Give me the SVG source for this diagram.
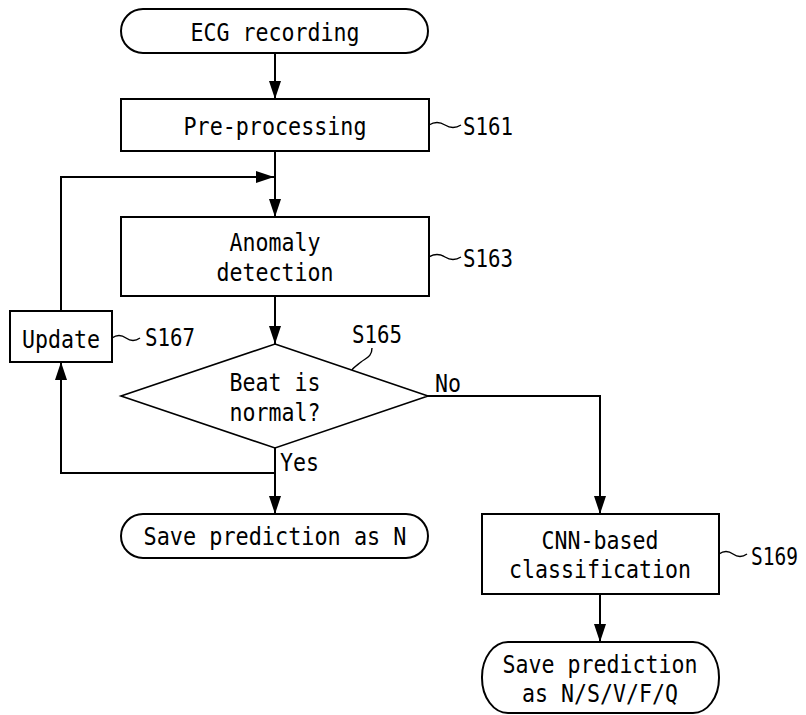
<svg xmlns="http://www.w3.org/2000/svg" width="806" height="715" viewBox="0 0 806 715">
<style>
.box{fill:#fff;stroke:#000;stroke-width:2}
.dia{fill:#fff;stroke:#000;stroke-width:1.6}
.con{fill:none;stroke:#000;stroke-width:2}
.lead{fill:none;stroke:#000;stroke-width:1.4}
text{font-family:"DejaVu Sans Mono","Liberation Mono",monospace;font-size:25px;fill:#000}
.c{text-anchor:middle}
</style>
<defs>
<marker id="ah" markerUnits="userSpaceOnUse" markerWidth="18" markerHeight="12" refX="18" refY="6" orient="auto">
<path d="M0,0 L18,6 L0,12 z" fill="#000"/>
</marker>
</defs>
<rect width="806" height="715" fill="#fff"/>
<g id="connectors">
<path class="con" d="M275,53 V99" marker-end="url(#ah)"/>
<path class="con" d="M275,151 V217" marker-end="url(#ah)"/>
<path class="con" d="M61,311 V177 H274" marker-end="url(#ah)"/>
<path class="con" d="M275,296 V344" marker-end="url(#ah)"/>
<path class="con" d="M275,448 V514" marker-end="url(#ah)"/>
<path class="con" d="M275,473 H61 V362" marker-end="url(#ah)"/>
<path class="con" d="M428,396 H600 V514" marker-end="url(#ah)"/>
<path class="con" d="M600,594 V642" marker-end="url(#ah)"/>
<text x="435" y="392" textLength="26" lengthAdjust="spacingAndGlyphs">No</text>
<text x="280" y="471" textLength="39" lengthAdjust="spacingAndGlyphs">Yes</text>
</g>
<g id="ecg">
<rect class="box" x="121" y="9" width="307" height="44" rx="22" ry="22"/>
<text class="c" x="275" y="41" textLength="169" lengthAdjust="spacingAndGlyphs">ECG recording</text>
</g>
<g id="s161">
<rect class="box" x="121" y="99" width="308" height="52"/>
<text class="c" x="275" y="135" textLength="183" lengthAdjust="spacingAndGlyphs">Pre-processing</text>
<path class="lead" d="M429,125 q8,-5 16,0 t16,0"/>
<text x="463" y="135" textLength="50" lengthAdjust="spacingAndGlyphs">S161</text>
</g>
<g id="s163">
<rect class="box" x="121" y="217" width="308" height="79"/>
<text class="c" x="275" y="251" textLength="91" lengthAdjust="spacingAndGlyphs">Anomaly</text>
<text class="c" x="275" y="281" textLength="117" lengthAdjust="spacingAndGlyphs">detection</text>
<path class="lead" d="M429,257 q8,-5 16,0 t16,0"/>
<text x="463" y="267" textLength="50" lengthAdjust="spacingAndGlyphs">S163</text>
</g>
<g id="s165">
<polygon class="dia" points="275,344 428,396 275,448 121,396"/>
<text class="c" x="275" y="391" textLength="91" lengthAdjust="spacingAndGlyphs">Beat is</text>
<text class="c" x="275" y="421" textLength="91" lengthAdjust="spacingAndGlyphs">normal?</text>
<path class="lead" d="M372,348 c0,9 -6,10 -11,14 s-8,6 -9,8"/>
<text x="352" y="343" textLength="50" lengthAdjust="spacingAndGlyphs">S165</text>
</g>
<g id="s167">
<rect class="box" x="10" y="311" width="102" height="51"/>
<text class="c" x="61" y="348" textLength="78" lengthAdjust="spacingAndGlyphs">Update</text>
<path class="lead" d="M112,338 q7,-5 14,0 t14,0"/>
<text x="145" y="346" textLength="50" lengthAdjust="spacingAndGlyphs">S167</text>
</g>
<g id="saven">
<rect class="box" x="121" y="514" width="307" height="44" rx="22" ry="22"/>
<text class="c" x="275" y="545" textLength="263" lengthAdjust="spacingAndGlyphs">Save prediction as N</text>
</g>
<g id="s169">
<rect class="box" x="482" y="514" width="237" height="80"/>
<text class="c" x="600" y="549" textLength="117" lengthAdjust="spacingAndGlyphs">CNN-based</text>
<text class="c" x="600" y="578" textLength="182" lengthAdjust="spacingAndGlyphs">classification</text>
<path class="lead" d="M719,554 q7,-5 14,0 t14,0"/>
<text transform="translate(751,565) scale(0.78,1)" x="0" y="0">S169</text>
</g>
<g id="savefinal">
<rect class="box" x="482" y="642" width="237" height="71" rx="26" ry="35"/>
<text class="c" x="600" y="673" textLength="195" lengthAdjust="spacingAndGlyphs">Save prediction</text>
<text class="c" x="600" y="702" textLength="156" lengthAdjust="spacingAndGlyphs">as N/S/V/F/Q</text>
</g>
</svg>
